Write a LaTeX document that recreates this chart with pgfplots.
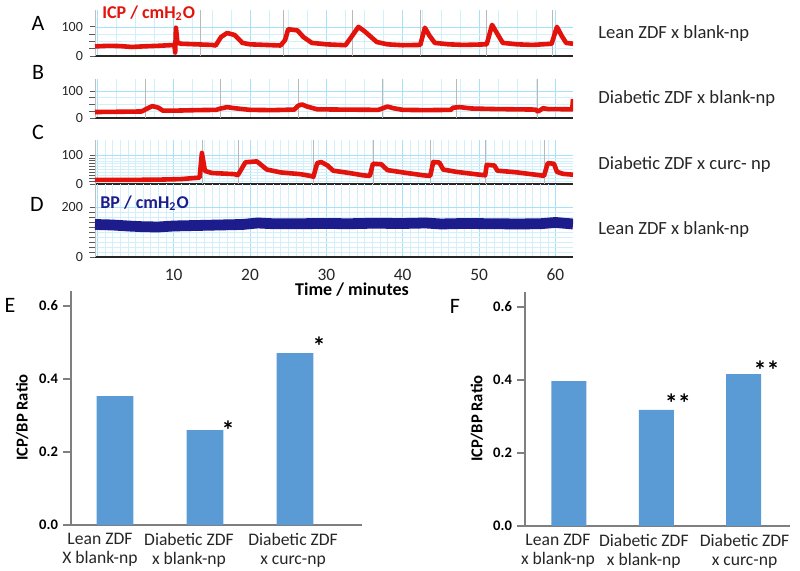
\documentclass[border=0pt]{standalone}
\usepackage{fontspec}
\setmainfont{Carlito}
\usepackage{pgfplots}
\pgfplotsset{compat=1.18}

\definecolor{icp}{HTML}{E3120B}
\definecolor{bp}{HTML}{1C1C8C}
\definecolor{barblue}{HTML}{5B9BD5}
\definecolor{axgray}{HTML}{7F7F7F}

\tikzset{sigstar/.style={font=\bfseries\fontsize{13}{13}\selectfont, anchor=base, inner sep=0pt}}

\pgfplotsset{
  trace/.style={
    scale only axis, anchor=south west, width=239pt,
    xmin=-0.3, xmax=62.3, ymin=0,
    axis lines=left, axis line style={-},
    x axis line style={draw=black!85, line width=0.7pt},
    y axis line style={draw=gray!50, line width=0.4pt},
    xtick={0,10,...,60}, xticklabels={},
    grid=both,
    major grid style={cyan!35, line width=0.3pt},
    minor grid style={cyan!18, line width=0.25pt},
    major x tick style={draw=none}, minor tick style={draw=none},
    ytick style={draw=gray!70!black, line width=0.4pt},
    tick align=outside, major tick length=2.5pt,
    yticklabel style={font=\fontsize{7}{8}\selectfont, text=black!85},
    xticklabel style={font=\fontsize{8.7}{10}\selectfont, text=black!85},
    /pgf/number format/assume math mode=true,
    extra x tick style={major grid style={gray!55, line width=0.4pt}},
  },
  redtrace/.style={icp, line width=2.3pt, line join=round, mark=none},
  ratio/.style={
    scale only axis, anchor=south west, height=116.8pt,
    ymin=0, ymax=0.64,
    axis lines=left, axis line style={-, draw=axgray, line width=0.6pt},
    ytick={0,0.2,0.4,0.6},
    yticklabel style={/pgf/number format/fixed, /pgf/number format/fixed zerofill,
      /pgf/number format/precision=1, font=\bfseries\fontsize{7.3}{8}\selectfont, xshift=1pt},
    /pgf/number format/assume math mode=true,
    tick align=outside, major tick length=4pt,
    ytick style={draw=axgray, line width=0.6pt}, major x tick style={draw=none},
    xticklabel style={align=center, font=\fontsize{8.8}{9.5}\selectfont, text=black!85, yshift=3.5pt},
    ylabel={ICP/BP Ratio},
    ylabel style={font=\bfseries\fontsize{8.3}{9}\selectfont, anchor=center},
    ybar, bar width=0.41,
  },
}

\begin{document}
\begin{tikzpicture}
\useasboundingbox (0,0) rectangle (400pt,285.5pt);

% A
\begin{axis}[trace, at={(47.5pt,257.5pt)}, height=23pt, ymax=158,
  ytick={0,100}, minor y tick num=3, minor x tick num=3,
  extra x ticks={13.5,24.4,33.4,42.3,50.9,59.6}, extra x tick labels={}]
\addplot[redtrace] coordinates {
  (-0.3,33)(1.5,35)(3,34)(4.5,31)(6,33)(8,35)(9.5,37)(10.1,38)(10.2,12)(10.3,97)(10.5,45)
  (11,42)(13,40)(15,38)(15.5,36)(16.2,65)(17,79)(18,72)(19,45)(20,40)(22,38)
  (24,36)(24.6,55)(25,92)(26.2,88)(27,65)(28.1,45)(30,40)(32.5,37)(33.4,70)
  (34.2,100)(35,85)(36.6,48)(38,40)(40,37)(42.3,38)(42.9,97)(43.5,70)(44.2,45)
  (46,40)(48,38)(51,40)(51.7,107)(52.3,80)(53.1,45)(55,40)(57,38)(59.5,42)
  (60.2,100)(60.8,70)(61.4,45)(62.3,42)};
\end{axis}

% B
\begin{axis}[trace, at={(47.5pt,226.5pt)}, height=19.5pt, ymax=144,
  ytick={0,100}, minor y tick num=3, minor x tick num=3,
  extra x ticks={6.3,16.1,26.3,37.3,47,57.7}, extra x tick labels={}]
\addplot[redtrace] coordinates {
  (-0.3,22)(3,23)(5.8,24)(6.2,30)(7.2,44)(8,38)(8.6,27)(10,27)(13,29)(15.6,30)
  (16,34)(17,40)(18,36)(20,30)(23,29)(25.8,31)(26.3,45)(26.8,50)(27.5,42)
  (28.8,32)(32,31)(36.8,30)(37.3,35)(38,42)(38.8,36)(40,30)(43,29)(46.3,30)
  (46.6,38)(47.5,40)(49,35)(52,33)(57.4,31)(57.7,24)(58.4,36)(59,33)(62,32)
  (62.2,32)(62.3,70)};
\end{axis}

% C
\begin{axis}[trace, at={(47.5pt,193.5pt)}, height=22pt, ymax=152,
  ytick={0,100}, minor y tick num=9, minor x tick num=9,
  extra x ticks={13.8,18.5,28.3,36.1,43.6,50.8,58.6}, extra x tick labels={}]
\addplot[redtrace] coordinates {
  (-0.3,14)(4,14)(8,15)(11,17)(13.4,22)(13.7,107)(14.1,45)(15,38)(18,34)
  (18.4,30)(19.4,75)(20.9,78)(22.2,50)(24,40)(26.6,34)(27.9,28)(28.3,25)
  (28.8,72)(29.3,76)(30.1,65)(30.9,46)(33,38)(34.8,30)(35.7,28)(36.1,70)
  (37.2,68)(38,48)(40,40)(42.7,30)(43.6,28)(44,76)(44.8,74)(45.3,50)(47,42)
  (50.1,32)(50.8,30)(51,66)(52,64)(52.4,46)(55,40)(58,30)(58.5,28)(59,72)
  (59.8,70)(60.2,42)(61,35)(62.3,32)};
\end{axis}

% D
\begin{axis}[trace, at={(47.5pt,157pt)}, height=36.5pt, ymax=292,
  ytick={0,200}, minor y tick num=9, minor x tick num=9,
  xticklabels={,10,20,30,40,50,60}]
\addplot[bp, line width=5.4pt, line join=round, mark=none] coordinates {
  (-0.3,130)(2,128)(4,124)(6,121)(8,120)(10,124)(13,126)(16,128)(19,130)
  (21,136)(23,133)(26,133)(30,134)(33,133)(36,135)(40,134)(43,136)(45,132)
  (48,134)(52,133)(55,132)(58,133)(60,138)(62.3,132)};
\end{axis}

% panel letters and labels
\node[font=\fontsize{11}{12}\selectfont] at (19pt,274pt) {A};
\node[font=\fontsize{11}{12}\selectfont] at (19pt,249.5pt) {B};
\node[font=\fontsize{11}{12}\selectfont] at (19pt,219.5pt) {C};
\node[font=\fontsize{11}{12}\selectfont] at (18.5pt,183.5pt) {D};
\node[anchor=west, font=\bfseries\fontsize{9}{10}\selectfont, text=icp, inner sep=0pt]
  at (51pt,279pt) {ICP / cmH\textsubscript{2}O};
\node[anchor=west, font=\bfseries\fontsize{9}{10}\selectfont, text=bp, inner sep=0pt]
  at (50pt,184pt) {BP / cmH\textsubscript{2}O};
\begin{scope}[every node/.style={anchor=west, inner sep=0pt, font=\fontsize{9.3}{11}\selectfont, text=black!85}]
\node at (299pt,268.5pt) {Lean ZDF x blank-np};
\node at (299pt,236pt) {Diabetic ZDF x blank-np};
\node at (299pt,203pt) {Diabetic ZDF x curc- np};
\node at (299pt,170.5pt) {Lean ZDF x blank-np};
\end{scope}
\node[font=\bfseries\fontsize{9}{10}\selectfont] at (176pt,140.5pt) {Time / minutes};

% E
\begin{axis}[ratio, at={(35.5pt,23pt)}, width=145.5pt,
  xmin=0.511, xmax=3.744,
  xtick={0.833,1.822,2.978},
  xticklabels={{Lean ZDF\\X blank-np},{Diabetic ZDF\\x blank-np},{Diabetic ZDF\\x curc-np}},
  ylabel style={at={(axis description cs:-0.168,0.46)}}]
\addplot[fill=barblue, draw=none] coordinates {(1,0.353)(2,0.26)(3,0.471)};
\node[sigstar] at (axis cs:2.256,0.235) {*};
\node[sigstar] at (axis cs:3.267,0.463) {*};
\end{axis}
\node[font=\fontsize{11}{12}\selectfont] at (5pt,133pt) {E};

% F
\begin{axis}[ratio, at={(262.5pt,22.5pt)}, width=132.5pt,
  xmin=0.497, xmax=3.53, bar width=0.40,
  xtick={0.874,1.857,3.01},
  xticklabels={{Lean ZDF\\x blank-np},{Diabetic ZDF\\x blank-np},{Diabetic ZDF\\x curc-np}},
  ylabel style={at={(axis description cs:-0.181,0.46)}}]
\addplot[fill=barblue, draw=none] coordinates {(1,0.397)(2,0.318)(3,0.416)};
\node[sigstar] at (axis cs:2.246,0.312) {**};
\node[sigstar] at (axis cs:3.263,0.400) {**};
\end{axis}
\node[font=\fontsize{11}{12}\selectfont] at (227.5pt,132.5pt) {F};
\end{tikzpicture}
\end{document}
